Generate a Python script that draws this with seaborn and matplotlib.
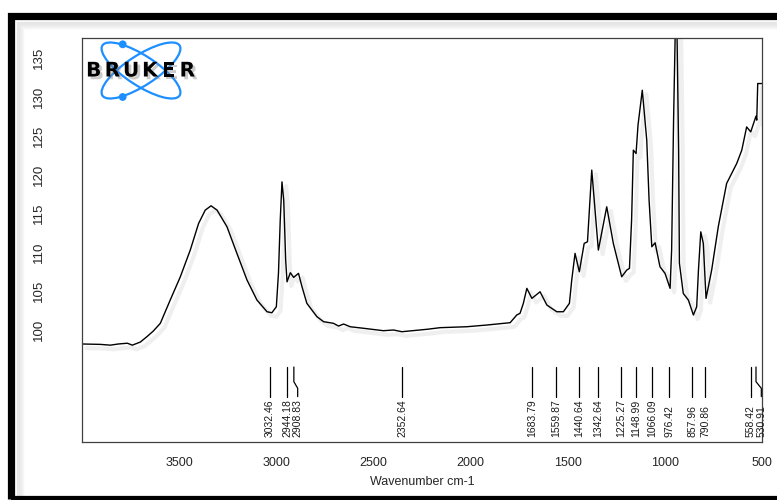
import numpy as np
import matplotlib
matplotlib.use('Agg')
import matplotlib.pyplot as plt
import matplotlib.patheffects as pe
from matplotlib.patches import Ellipse, Circle, Rectangle
import seaborn as sns

# spectrum (wavenumber cm-1, intensity)
wavenumber = [3998, 3905, 3853, 3812, 3766, 3750, 3740, 3699, 3665, 3632,
              3596, 3545, 3493, 3442, 3399, 3365, 3335, 3304, 3253, 3202,
              3150, 3099, 3047, 3022, 2999, 2988, 2979, 2970, 2961, 2951,
              2944, 2927, 2910, 2885, 2867, 2842, 2790, 2756, 2705, 2679,
              2653, 2619, 2550, 2448, 2396, 2353, 2224, 2156, 2019, 1916,
              1796, 1762, 1745, 1728, 1710, 1684, 1642, 1607, 1556, 1522,
              1491, 1479, 1462, 1440, 1415, 1398, 1376, 1359, 1342, 1299,
              1265, 1222, 1196, 1182, 1171, 1162, 1148, 1138, 1116, 1093,
              1081, 1067, 1050, 1025, 999, 973, 965, 955, 947, 942,
              937, 929, 925, 905, 879, 853, 836, 827, 815, 802,
              788, 759, 725, 682, 630, 604, 579, 558, 531, 527,
              522, 500]
intensity = [98.2, 98.15, 98.05, 98.2, 98.3, 98.15, 98.05, 98.45, 99.14, 99.87,
             100.86, 103.86, 106.85, 110.28, 113.71, 115.42, 115.98, 115.42, 113.28, 109.86,
             106.43, 103.86, 102.35, 102.22, 102.99, 107.33, 114.1, 119.06, 116.7, 109.0,
             106.2, 107.37, 106.77, 107.29, 105.57, 103.43, 101.71, 101.07, 100.86, 100.51,
             100.77, 100.42, 100.22, 99.91, 100.0, 99.78, 100.09, 100.3, 100.42, 100.64,
             100.94, 101.93, 102.15, 103.43, 105.36, 104.07, 104.92, 103.21, 102.35, 102.35,
             103.43, 106.43, 109.86, 107.49, 111.14, 111.35, 120.57, 115.4, 110.28, 115.85,
             111.14, 106.85, 107.71, 107.93, 114.14, 123.14, 122.71, 126.35, 130.85, 124.42,
             116.7, 110.71, 111.22, 108.14, 107.29, 105.36, 110.28, 127.0, 137.6, 140.0,
             137.6, 123.1, 108.6, 104.7, 103.86, 101.93, 102.99, 107.7, 112.63, 111.14,
             104.07, 107.71, 113.28, 118.86, 121.43, 123.14, 126.13, 125.49, 127.51, 127.0,
             131.71, 131.71]

# labelled peaks
peak_pos = [3032.46, 2944.18, 2908.83, 2352.64, 1683.79, 1559.87, 1440.64,
            1342.64, 1225.27, 1148.99, 1066.09, 976.42, 857.96, 790.86,
            558.42, 530.91]

xticks = [3500, 3000, 2500, 2000, 1500, 1000, 500]
yticks = [100, 105, 110, 115, 120, 125, 130, 135]

sns.set_style('white')
plt.rcParams['font.family'] = ['Liberation Sans', 'DejaVu Sans']

W, H = 777, 500
fig = plt.figure(figsize=(7.77, 5.0), dpi=100)
ax = fig.add_axes([82 / W, 1 - 442 / H, 680 / W, 404 / H])

line_shadow = [pe.SimpleLineShadow(offset=(3, -3), shadow_color='0.5', alpha=0.12, linewidth=3),
               pe.Normal()]

df_x = np.array(wavenumber)
df_y = np.array(intensity)
sns.lineplot(x=df_x, y=df_y, ax=ax, color='black', linewidth=1.0, sort=False,
             path_effects=line_shadow)

ax.set_xlim(3999, 500)
ax.set_ylim(85.59, 137.57)
ax.set_xticks(xticks)
ax.set_yticks(yticks)
ax.set_xticklabels([str(t) for t in xticks], fontsize=9)
ax.set_yticklabels([str(t) for t in yticks], fontsize=9.5, rotation=90, va='center')
ax.tick_params(axis='x', direction='out', length=5, width=0.8, color='0.2', pad=6)
ax.tick_params(axis='y', direction='out', length=5, width=0.8, color='0.2', pad=22)
ax.set_xlabel('Wavenumber cm-1', fontsize=9, labelpad=5)
for s in ax.spines.values():
    s.set_color('0.25')
    s.set_linewidth(0.9)

# peak markers: tick lines and rotated labels (shift crowded labels)
min_gap = 55
label_x = []
for p in peak_pos:
    lx = p
    if label_x and label_x[-1] - lx < min_gap:
        lx = label_x[-1] - min_gap
    label_x.append(lx)

for p, lx in zip(peak_pos, label_x):
    if lx == p:
        ax.plot([p, p], [95.24, 91.43], color='black', lw=0.9)
    else:
        ax.plot([p, p, lx, lx], [95.24, 93.35, 92.5, 91.43], color='black', lw=0.9)
    ax.text(lx, 86.2, f'{p:.2f}', rotation=90, ha='center', va='bottom',
            fontsize=7.5, color='0.1')

# thick black frame with a soft inner shadow
for i, g in enumerate([0.96, 0.93, 0.9]):
    off = (3 - i) * 2 + 5
    fig.add_artist(Rectangle(((11 + off) / W, 1 / H), (781 - 11) / W, (499 - 16 - off) / H,
                             transform=fig.transFigure, fill=False,
                             edgecolor=str(g), lw=2.5, clip_on=False, zorder=0))
fig.add_artist(Rectangle((11 / W, 1 / H), (781 - 11) / W, (499 - 16) / H,
                         transform=fig.transFigure, fill=False, edgecolor='black',
                         lw=5.2, clip_on=False))

# Bruker logo
lax = fig.add_axes([80 / W, 1 - 104 / H, 125 / W, 66 / H])
lax.set_xlim(80, 205)
lax.set_ylim(104, 38)
lax.axis('off')
blue = '#1e8fff'
for ang in (33, -33):
    lax.add_patch(Ellipse((141, 70.5), 92, 30, angle=ang, fill=False,
                          edgecolor=blue, lw=1.6))
lax.add_patch(Circle((122.7, 44.3), 3.2, color=blue))
lax.add_patch(Circle((122.7, 97.0), 3.2, color=blue))
for i, ch in enumerate('BRUKER'):
    lax.text(84.3 + 9.37 + 18.73 * i, 71, ch, fontsize=14.5, fontweight='bold',
             ha='center', va='center', color='black', family='DejaVu Sans',
             path_effects=[pe.withSimplePatchShadow(offset=(2, -2), shadow_rgbFace='0.5', alpha=0.4)])

fig.savefig('out.png', dpi=100)
